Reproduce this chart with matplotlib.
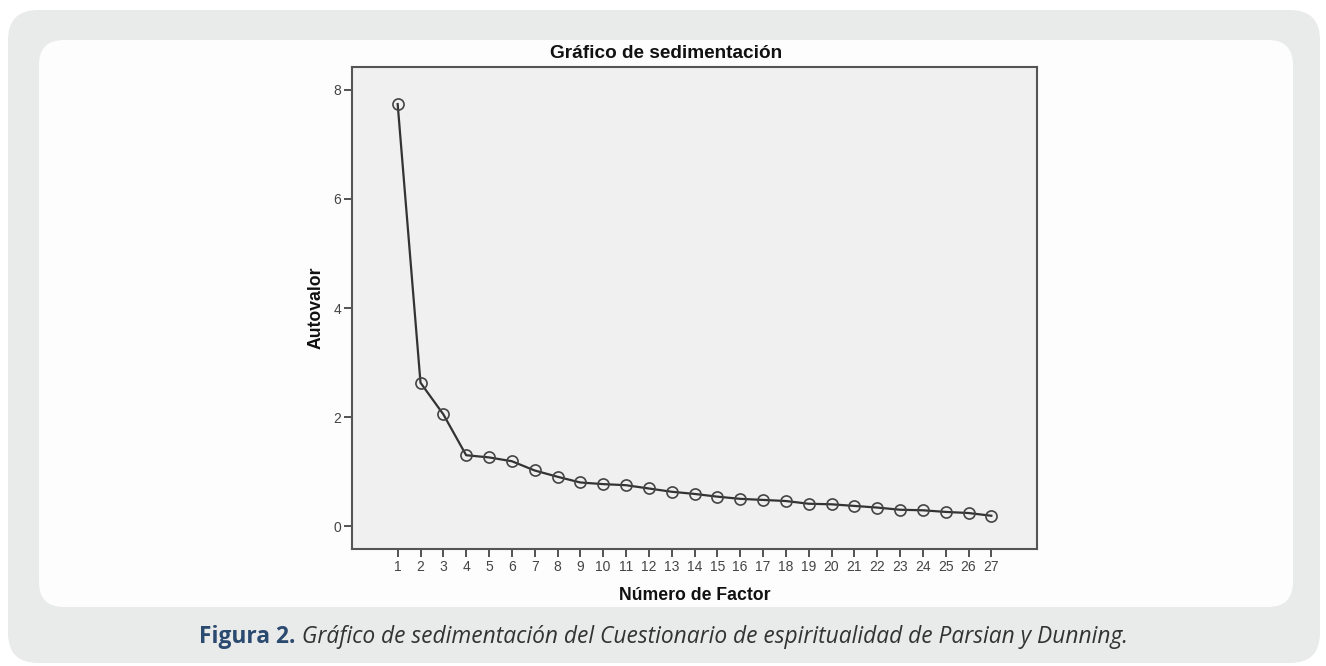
import matplotlib
matplotlib.use("Agg")
import matplotlib.pyplot as plt
from matplotlib.patches import FancyBboxPatch
from matplotlib.transforms import IdentityTransform

factors = list(range(1, 28))
eigenvalues = [7.74, 2.63, 2.05, 1.30, 1.26, 1.19, 1.02, 0.905, 0.80, 0.77,
               0.75, 0.69, 0.63, 0.59, 0.54, 0.50, 0.48, 0.46, 0.41, 0.40,
               0.37, 0.34, 0.30, 0.29, 0.26, 0.24, 0.19]
y_ticks = [0, 2, 4, 6, 8]
title = "Gráfico de sedimentación"
xlabel = "Número de Factor"
ylabel = "Autovalor"
caption_bold = "Figura 2."
caption_rest = " Gráfico de sedimentación del Cuestionario de espiritualidad de Parsian y Dunning."

W, H = 1326, 666
fig = plt.figure(figsize=(W / 100, H / 100), dpi=100)
fig.patch.set_facecolor("white")

outer = FancyBboxPatch((8 + 30, 3 + 30), 1312 - 60, 653 - 60,
                       boxstyle="round,pad=30", transform=IdentityTransform(),
                       facecolor="#e9eaea", edgecolor="none", zorder=-5)
inner = FancyBboxPatch((39 + 25, 59 + 25), 1254 - 50, 567 - 50,
                       boxstyle="round,pad=25", transform=IdentityTransform(),
                       facecolor="#fdfdfd", edgecolor="none", zorder=-4)
fig.patches.extend([outer, inner])

ax = fig.add_axes([352 / W, 117 / H, 685 / W, 482 / H])
ax.set_facecolor("#f0f0f0")
ax.plot(factors, eigenvalues, color="#333333", linewidth=1.6, marker="o",
        markersize=8, markerfacecolor="none", markeredgecolor="#444444",
        markeredgewidth=1.2, zorder=3)
ax.set_xlim(-1, 29)
ax.set_ylim(-0.42, 8.42)
ax.set_xticks(factors)
ax.set_xticklabels([str(f) for f in factors])
ax.set_yticks(y_ticks)
for s in ax.spines.values():
    s.set_color("#555555")
    s.set_linewidth(1.5)
ax.tick_params(axis="both", direction="out", length=6, width=1.3,
               color="#444444", labelcolor="#444444", labelsize=10, pad=2)
for lbl in ax.get_xticklabels() + ax.get_yticklabels():
    lbl.set_family("Liberation Sans")

ax.set_xlabel(xlabel, fontsize=12.7, fontweight="bold", family="Liberation Sans",
              color="#111111", labelpad=9)
ax.set_ylabel(ylabel, fontsize=12.7, fontweight="bold", family="Liberation Sans",
              color="#111111", labelpad=6)
fig.text(666 / W, (666 - 53) / H, title, ha="center", va="center",
         fontsize=13.7, fontweight="bold", family="Liberation Sans", color="#111111")

# caption
cap_y = (666 - 637) / H
t1 = fig.text(0, cap_y, caption_bold, ha="left", va="center",
              fontsize=16.4, fontweight="bold", family="Open Sans", color="#2b4a6f")
t2 = fig.text(0, cap_y, caption_rest, ha="left", va="center",
              fontsize=16.4, style="italic", family="Open Sans", color="#333333")
fig.canvas.draw()
w1 = t1.get_window_extent().width
w2 = t2.get_window_extent().width
x0 = 663.5 - (w1 + w2) / 2
t1.set_x(x0 / W)
t2.set_x((x0 + w1) / W)

fig.savefig("out.png", dpi=100)
